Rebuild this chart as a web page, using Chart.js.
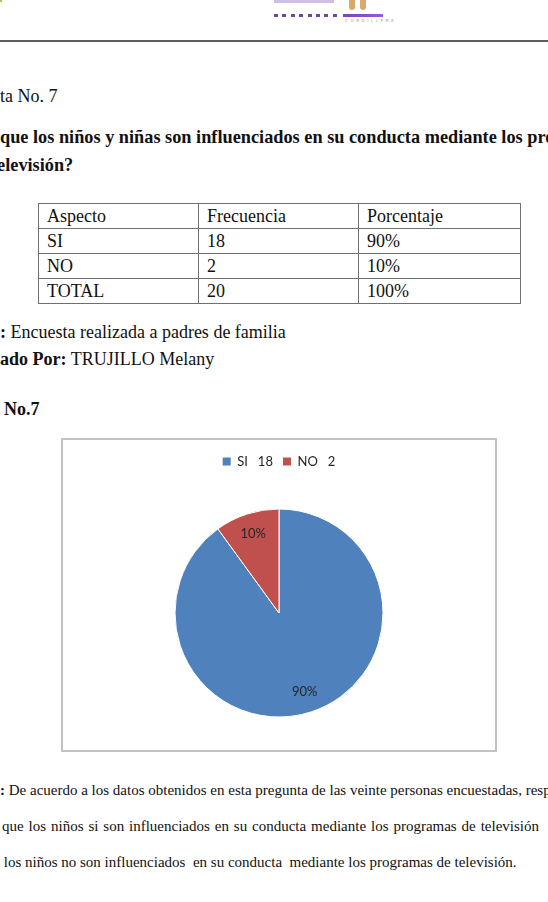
<!DOCTYPE html>
<html>
<head>
<meta charset="utf-8">
<script src="https://cdn.jsdelivr.net/npm/chart.js@4.4.1/dist/chart.umd.min.js"></script>
<style>
html,body{margin:0;padding:0;background:#fff;}
body{width:548px;height:902px;position:relative;overflow:hidden;font-family:"Liberation Serif","Times New Roman",serif;color:#111;}
.t{position:absolute;white-space:nowrap;font-size:18px;line-height:18px;}
.q{font-size:18.3px;}
.s{position:absolute;white-space:nowrap;font-size:15px;line-height:15px;}
b{font-weight:bold;}
#hline{position:absolute;left:0;top:40px;width:548px;height:2px;background:#5e5e5e;}
.dash{position:absolute;top:14px;width:4px;height:3px;background:#6b4a9e;}
#solid{position:absolute;left:343px;top:14px;width:40px;height:3px;background:linear-gradient(90deg,#7a3fc8,#9b59d6);}
#cord{position:absolute;left:345px;top:19px;font-family:"DejaVu Sans",sans-serif;font-size:4px;letter-spacing:2.6px;color:#9a9a9a;line-height:4px;}
.leg{position:absolute;top:0;width:6px;height:10px;background:#d9a86a;border-radius:0 0 3px 3px;}
#ptxt{position:absolute;left:274px;top:0;width:60px;height:3px;background:#b9a4dc;opacity:.7;}
#dot{position:absolute;left:0;top:0;width:2px;height:2px;background:#b8c24a;}
table{position:absolute;left:38px;top:203px;border-collapse:collapse;table-layout:fixed;width:482px;font-size:18px;line-height:18px;}
td{border:1px solid #6f6f6f;height:24px;padding:0 0 0 8px;vertical-align:middle;white-space:nowrap;}
#box{position:absolute;left:61px;top:438px;width:432px;height:310px;border:2px solid #c2c2c2;}
#box canvas{display:block;}
#l2{width:537px;text-align:justify;text-align-last:justify;}
</style>
</head>
<body>
<div id="dot"></div>
<div id="ptxt"></div>
<div class="leg" style="left:349px"></div>
<div class="leg" style="left:360px"></div>
<div id="dashes"></div>
<div id="solid"></div>
<div id="cord">CORDILLERA</div>
<div id="hline"></div>

<div class="t" style="left:0;top:87px">ta No. 7</div>
<div class="t q" style="left:0;top:128px"><b>que los niños y niñas son influenciados en su conducta mediante los programas de</b></div>
<div class="t q" style="left:-9px;top:156px"><b>televisión?</b></div>

<table id="tbl">
<colgroup><col style="width:160px"><col style="width:160px"><col style="width:162px"></colgroup>
<tbody></tbody>
</table>

<div class="t" style="left:0;top:323px"><b>:</b> Encuesta realizada a padres de familia</div>
<div class="t" style="left:0;top:350px"><b>ado Por:</b> TRUJILLO Melany</div>
<div class="t" style="left:4px;top:400px"><b>No.7</b></div>

<div id="box"><canvas id="c" width="432" height="310"></canvas></div>

<div class="s" style="left:0;top:783px"><b>:</b> De acuerdo a los datos obtenidos en esta pregunta de las veinte personas encuestadas, respondieron</div>
<div class="s" id="l2" style="left:2px;top:819px">que los niños si son influenciados en su conducta mediante los programas de televisión</div>
<div class="s" style="left:0;top:855px">&nbsp;los niños no son influenciados&nbsp; en su conducta&nbsp; mediante los programas de televisión.</div>

<script>
// ---- data ----
const tableHeaders = ['Aspecto', 'Frecuencia', 'Porcentaje'];
const categories = ['SI', 'NO'];
const frequencies = [18, 2];
const percentages = [90, 10];
const totalLabel = 'TOTAL';
const totalFrequency = 20;
const totalPercentage = 100;

const colors = ['#4f81bd', '#c0504d'];

// header decoration dashes
(function(){
  const d = document.getElementById('dashes');
  for (let i = 0; i < 8; i++) {
    const e = document.createElement('div');
    e.className = 'dash';
    e.style.left = (274 + i * 8.4) + 'px';
    d.appendChild(e);
  }
})();

// table built from data
(function(){
  const tb = document.querySelector('#tbl tbody');
  const rows = [tableHeaders];
  categories.forEach((c, i) => rows.push([c, String(frequencies[i]), percentages[i] + '%']));
  rows.push([totalLabel, String(totalFrequency), totalPercentage + '%']);
  rows.forEach(r => {
    const tr = document.createElement('tr');
    r.forEach(v => { const td = document.createElement('td'); td.textContent = v; tr.appendChild(td); });
    tb.appendChild(tr);
  });
})();

const pctLabels = {
  id: 'pctLabels',
  afterDatasetsDraw(chart) {
    const ctx = chart.ctx;
    const meta = chart.getDatasetMeta(0);
    ctx.save();
    ctx.font = '13px Lato, "Liberation Sans", sans-serif';
    ctx.fillStyle = '#262626';
    ctx.textAlign = 'center';
    ctx.textBaseline = 'middle';
    meta.data.forEach((arc, i) => {
      const p = arc.getProps(['x', 'y', 'startAngle', 'endAngle', 'outerRadius'], true);
      const mid = (p.startAngle + p.endAngle) / 2;
      const r = p.outerRadius * 0.8;
      ctx.fillText(percentages[i] + '%', p.x + Math.cos(mid) * r, p.y + Math.sin(mid) * r);
    });
    ctx.restore();
  }
};

new Chart(document.getElementById('c'), {
  type: 'pie',
  data: {
    labels: categories,
    datasets: [{
      data: frequencies,
      backgroundColor: colors,
      borderColor: '#ffffff',
      borderWidth: 1,
      radius: 104
    }]
  },
  options: {
    responsive: false,
    animation: false,
    layout: { padding: { top: 5, bottom: 2, left: 0, right: 0 } },
    plugins: {
      tooltip: { enabled: false },
      legend: {
        position: 'top',
        labels: {
          boxWidth: 8,
          boxHeight: 8,
          padding: 10,
          color: '#262626',
          font: { family: 'Lato, "Liberation Sans", sans-serif', size: 13 },
          generateLabels() {
            return categories.map((c, i) => ({
              text: c + '   ' + frequencies[i],
              fillStyle: colors[i],
              strokeStyle: colors[i],
              lineWidth: 0,
              hidden: false,
              index: i,
              fontColor: '#262626'
            }));
          }
        }
      }
    }
  },
  plugins: [pctLabels]
});
</script>
</body>
</html>
